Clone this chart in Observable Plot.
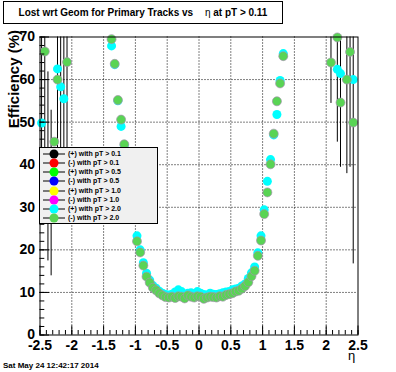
<!DOCTYPE html>
<html><head><meta charset="utf-8">
<script src="https://cdn.jsdelivr.net/npm/d3@7"></script>
<script src="https://cdn.jsdelivr.net/npm/@observablehq/plot@0.6"></script>
<style>
body{margin:0;background:#fff;}
#wrap{position:relative;width:396px;height:372px;overflow:hidden;font-family:"Liberation Sans",Arial,sans-serif;}
#title{position:absolute;left:3px;top:1px;width:280px;height:23px;box-sizing:border-box;border:1px solid #000;background:#fff;font-weight:bold;font-size:10px;text-align:center;line-height:21px;white-space:pre;}
#title .eta{font-weight:normal;margin-left:9px;}
#legend{position:absolute;left:39px;top:147px;width:119px;height:77px;box-sizing:border-box;border:1px solid #000;background:#f0f0f0;}
#legend .lab{position:absolute;left:28px;font-size:7px;font-weight:bold;line-height:10px;white-space:pre;}
#legend svg{position:absolute;left:0;}
#date{position:absolute;left:3px;top:361px;font-size:8px;font-weight:bold;line-height:9px;white-space:pre;}
</style>
</head><body>
<div id="wrap"></div>
<script>
// ---- data ----
const seriesLabels = ["(+) with pT > 0.1","(-) with pT > 0.1","(+) with pT > 0.5","(-) with pT > 0.5","(+) with pT > 1.0","(-) with pT > 1.0","(+) with pT > 2.0","(-) with pT > 2.0"];
const seriesColors = ["#000000","#ff0000","#00ff00","#0000ff","#ffff00","#ff00ff","#00ffff","#59d454"];

// (+) with pT > 2.0
const etaPos = [-2.475,-2.325,-2.225,-2.175,-2.125,-1.375,-1.325,-1.275,-1.225,-1.175,
 -0.975,-0.925,-0.875,-0.825,-0.775,-0.725,-0.675,-0.625,-0.575,-0.525,
 -0.475,-0.425,-0.375,-0.325,-0.275,-0.225,-0.175,-0.125,-0.075,-0.025,
 0.025,0.075,0.125,0.175,0.225,0.275,0.325,0.375,0.425,0.475,
 0.525,0.575,0.625,0.675,0.725,0.775,0.825,0.875,0.925,0.975,
 1.025,1.075,1.125,1.175,1.225,1.275,1.325,2.175,2.225,2.425];
const effPos = [49.8,33.4,62.5,58.3,55.5,67.9,63.5,55.0,49.0,44.5,
 23.3,20.0,17.0,14.5,12.9,11.6,11.0,10.3,9.8,9.5,
 9.4,9.6,10.1,10.6,10.2,9.5,9.8,9.9,9.7,10.2,
 9.8,9.5,9.4,9.8,9.6,9.5,9.7,9.9,10.1,10.2,
 10.6,10.8,11.0,11.5,12.0,13.3,14.6,16.0,19.3,23.3,
 29.4,36.1,41.2,47.0,51.8,59.8,66.1,62.4,61.4,60.0];

// (-) with pT > 2.0
const etaNeg = [-2.425,-2.375,-2.275,-2.225,-2.075,-1.375,-1.325,-1.275,-1.225,-1.175,
 -0.975,-0.925,-0.875,-0.825,-0.775,-0.725,-0.675,-0.625,-0.575,-0.525,
 -0.475,-0.425,-0.375,-0.325,-0.275,-0.225,-0.175,-0.125,-0.075,-0.025,
 0.025,0.075,0.125,0.175,0.225,0.275,0.325,0.375,0.425,0.475,
 0.525,0.575,0.625,0.675,0.725,0.775,0.825,0.875,0.925,0.975,
 1.025,1.075,1.125,1.175,1.225,1.275,1.325,2.075,2.175,2.225,2.325,2.375,2.425];
const effNeg = [66.6,39.6,45.4,60.0,64.1,69.5,63.7,55.2,50.6,44.8,
 22.0,19.4,16.3,13.7,12.3,11.1,10.5,9.8,9.3,8.9,
 8.8,9.0,8.7,9.1,9.0,8.6,9.3,9.0,8.8,9.1,
 9.0,8.5,8.8,9.0,8.9,8.8,9.1,9.0,9.4,9.6,
 9.8,10.2,10.4,10.9,11.5,12.4,13.8,15.1,18.6,22.2,
 28.4,33.5,40.1,47.3,54.9,59.1,65.5,64.0,69.9,54.6,60.0,66.5,49.9];

// error bars (black)
const errEta  = [-2.475,-2.425,-2.375,-2.325,-2.225,-2.175,-2.125,-2.075,2.075,2.175,2.225,2.325,2.375,2.425];
const errLow  = [28,36,17.4,13.9,36,35,36,36,54.4,45.3,39.4,37.9,39.4,16.7];
const errHigh = [72,97,61.8,52.8,84,82,75,92,73.6,94.7,69.8,82.1,93.6,83.1];

const xTicks = [-2.5,-2,-1.5,-1,-0.5,0,0.5,1,1.5,2,2.5];
const yTicks = [0,10,20,30,40,50,60,70];
const xGridTicks = [-2,-1.5,-1,-0.5,0,0.5,1,1.5,2];
const yGridTicks = [10,20,30,40,50,60];

// ---- build ----
const W = 396, H = 372;
const mL = 39.5, mR = 38.5, mT = 36.5, mB = 37.5;
const innerW = W - mL - mR, innerH = H - mT - mB;
const xMinor = d3.range(-25, 26).map(i => i / 10);
const yMinor = d3.range(0, 36).map(i => i * 2);

const pos = etaPos.map((x, i) => ({x, y: effPos[i]}));
const neg = etaNeg.map((x, i) => ({x, y: effNeg[i]}));
const errs = errEta.map((x, i) => ({x, lo: errLow[i], hi: errHigh[i]}));

const fmt = d => String(d);
const plot = Plot.plot({
  width: W, height: H,
  marginLeft: mL, marginRight: mR, marginTop: mT, marginBottom: mB,
  x: {domain: [-2.5, 2.5]},
  y: {domain: [0, 70], clamp: true},
  style: {background: "white", fontFamily: "'Liberation Sans', Arial, sans-serif", fontWeight: "bold", overflow: "visible"},
  marks: [
    Plot.ruleX(xGridTicks, {x: d => d, stroke: "black", strokeDasharray: "1,2"}),
    Plot.ruleY(yGridTicks, {y: d => d, stroke: "black", strokeDasharray: "1,2"}),
    Plot.ruleX(errs, {x: "x", y1: "lo", y2: "hi", stroke: "black", strokeWidth: 1}),
    Plot.dot(pos, {x: "x", y: "y", r: 4.5, fill: seriesColors[6]}),
    Plot.dot(neg, {x: "x", y: "y", r: 4.5, fill: seriesColors[7], stroke: "#a394ad", strokeWidth: 0.7}),
    Plot.frame({stroke: "black"}),
    Plot.tickX(xMinor, {x: d => d, insetTop: innerH - 4.5, stroke: "black"}),
    Plot.tickX(xTicks, {x: d => d, insetTop: innerH - 9, stroke: "black"}),
    Plot.tickY(yMinor, {y: d => d, insetRight: innerW - 4.8, stroke: "black"}),
    Plot.tickY(yTicks, {y: d => d, insetRight: innerW - 9.5, stroke: "black"}),
    Plot.axisX({ticks: xTicks, tickSize: 0, tickPadding: 5, tickFormat: fmt, fontSize: 14, fontWeight: "bold", label: null}),
    Plot.axisY({ticks: yTicks, tickSize: 0, tickPadding: 5, tickFormat: fmt, fontSize: 14, fontWeight: "bold", label: null})
  ]
});
const wrap = document.getElementById("wrap");
wrap.appendChild(plot);

const svg = d3.select(plot);
svg.append("text")
  .attr("transform", "translate(18.5,30) rotate(-90)")
  .attr("text-anchor", "end")
  .attr("font-size", 15).attr("font-weight", "bold")
  .attr("fill", "black")
  .text("Efficiency (%)");
svg.append("text")
  .attr("x", 351.5).attr("y", 359.5)
  .attr("text-anchor", "middle")
  .attr("font-size", 13).attr("font-weight", "normal")
  .attr("fill", "black")
  .text("η");

// title
const title = document.createElement("div");
title.id = "title";
title.innerHTML = 'Lost wrt Geom for Primary Tracks vs <span class="eta">η</span> at pT &gt; 0.11';
wrap.appendChild(title);

// legend
const legend = document.createElement("div");
legend.id = "legend";
seriesLabels.forEach((lab, i) => {
  const cy = 5.7 + i * 9.23;
  const s = d3.create("svg").attr("width", 27).attr("height", 10).style("top", (cy - 5) + "px");
  s.append("line").attr("x1", 3).attr("x2", 25).attr("y1", 5).attr("y2", 5).attr("stroke", "black");
  s.append("circle").attr("cx", 14).attr("cy", 5).attr("r", 4.5).attr("fill", seriesColors[i]);
  legend.appendChild(s.node());
  const t = document.createElement("div");
  t.className = "lab";
  t.style.top = (cy - 5) + "px";
  t.textContent = lab;
  legend.appendChild(t);
});
wrap.appendChild(legend);

// date
const date = document.createElement("div");
date.id = "date";
date.textContent = "Sat May 24 12:42:17 2014";
wrap.appendChild(date);
</script>
</body></html>
